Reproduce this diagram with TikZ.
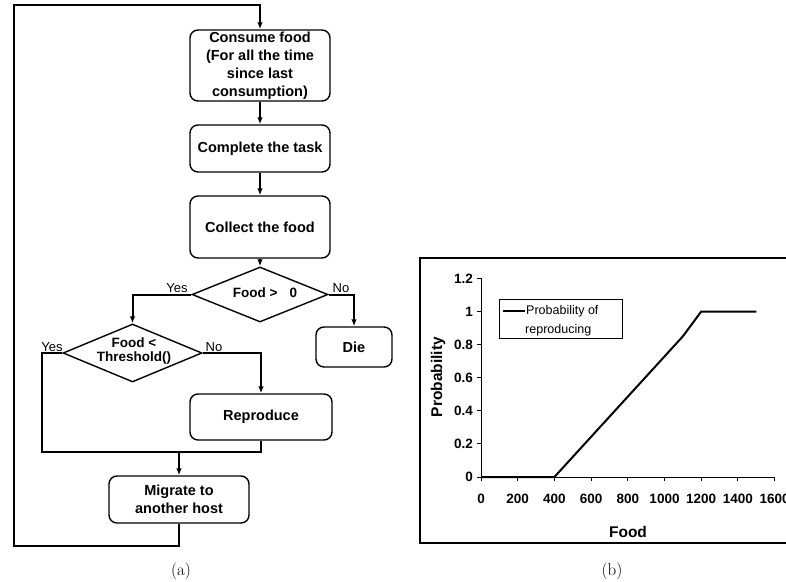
\documentclass[tikz,border=0pt]{standalone}
\usepackage{fontspec}
\newfontfamily\fcfont[WordSpace=2.3]{Liberation Sans}
\newfontfamily\plainsans{Liberation Sans}
\usetikzlibrary{arrows.meta,shapes.geometric}
\begin{document}
\begin{tikzpicture}[x=1pt,y=-1pt,
  box/.style={draw,line width=1.4pt,rounded corners=8pt,font=\fcfont\bfseries\fontsize{14.5}{18}\selectfont,align=center,inner sep=0pt},
  dia/.style={draw,line width=1.4pt,diamond,inner sep=0pt},
  diatext/.style={font=\fcfont\bfseries\fontsize{13.5}{14}\selectfont,align=center,inner sep=0pt},
  flow/.style={line width=2pt},
  arr/.style={flow,-{Latex[length=7pt,width=5.5pt]}},
  lbl/.style={font=\plainsans\fontsize{13}{15}\selectfont,inner sep=0pt},
  ticklbl/.style={font=\plainsans\bfseries\fontsize{13.5}{15}\selectfont,inner sep=0pt},
  axlbl/.style={font=\plainsans\bfseries\fontsize{15.5}{17}\selectfont,inner sep=0pt},
  captxt/.style={font=\fontsize{17}{20}\selectfont,inner sep=0pt}
]
\useasboundingbox (0,0) rectangle (786,581);
\clip (0,0) rectangle (786,581);

% ---------- flowchart (a) ----------
\node[box,minimum width=140pt,minimum height=71pt] (consume) at (260,65.5)
  {Consume food\\(For all the time\\since last\\consumption)};
\node[box,minimum width=140pt,minimum height=47pt] (complete) at (260,148.5) {Complete the task};
\node[box,minimum width=140pt,minimum height=62pt] (collect) at (260,227) {Collect the food};
\node[dia,minimum width=136pt,minimum height=55pt,aspect=2.47] (d1) at (260,294.5) {};
\node[diatext] (d1t) at (265,293) {Food >\hspace{12pt}0};
\node[dia,minimum width=139pt,minimum height=58pt,aspect=2.4] (d2) at (132.5,353) {};
\node[diatext] (d2t) at (134,351.5) {Food <\\Threshold()};
\node[box,minimum width=76pt,minimum height=40pt] (die) at (354,347) {Die};
\node[box,minimum width=142pt,minimum height=46pt] (repro) at (261,417) {Reproduce};
\node[box,minimum width=140pt,minimum height=47pt] (migrate) at (179,499.5) {Migrate to\\another host};

\node[lbl] (yes1) at (177,288) {Yes};
\node[lbl] (no1) at (341,288) {No};
\node[lbl] (yes2) at (52,347) {Yes};
\node[lbl] (no2) at (214,347) {No};

\coordinate (yl) at (42,452);
\coordinate (lb) at (14,546);
\coordinate (lt) at (14,5);
\coordinate (jr) at (repro.south |- yl);

\draw[arr] (consume.south) -- (complete.north);
\draw[arr] (complete.south) -- (collect.north);
\draw[arr] (collect.south) -- (d1.north);
\draw[arr] (d1.west) -| (d2.north);
\draw[arr] (d1.east) -| (die.north);
\draw[arr] (d2.east) -| (repro.north);
\draw[flow] (d2.west) -| (yl) -- (jr) -- (repro.south);
\draw[arr] (migrate.north |- yl) -- (migrate.north);
\draw[arr,line width=2.4pt] (migrate.south) |- (lb) -- (lt) -| (consume.north);

\node[captxt] (capa) at (181,571) {(a)};

% ---------- chart (b) ----------
\draw[line width=1.2pt] (420,258) rectangle (800,543);
\begin{scope}[shift={(481,477)},x=0.1835pt,y=165.5pt]
  \draw[line width=1pt] (0,0) -- (0,1.2);
  \draw[line width=1pt] (0,0) -- (1600,0);
  \foreach \v/\t in {0/0,0.2/0.2,0.4/0.4,0.6/0.6,0.8/0.8,1/1,1.2/1.2}{
    \draw[line width=1pt] (0,\v) -- ++(-4pt,0pt);
    \node[ticklbl,anchor=east] at ([xshift=-8pt]0,\v) {\t};
  }
  \foreach \u in {0,200,...,1600}{
    \draw[line width=1pt] (\u,0) -- ++(0pt,-4pt);
    \node[ticklbl] at ([yshift=-22pt]\u,0) {\u};
  }
  \draw[line width=2pt,line join=round] (0,0) -- (400,0) -- (1100,0.85) -- (1200,1) -- (1500,1);
\end{scope}
\node[axlbl,rotate=90] (ylab) at (438,377) {Probability};
\node[axlbl] (xlab) at (628,532) {Food};
\node[draw,line width=1pt,minimum width=123pt,minimum height=39pt,inner sep=0pt] (legend) at (560.5,318.5) {};
\draw[line width=2pt] (503,311) -- (525,311);
\node[lbl,anchor=west,font=\plainsans\fontsize{12.5}{14}\selectfont] (lg1) at (526,311) {Probability of};
\node[lbl,anchor=west,font=\plainsans\fontsize{12.5}{14}\selectfont] (lg2) at (525,330) {reproducing};

\node[captxt] (capb) at (612,571) {(b)};
\end{tikzpicture}
\end{document}
